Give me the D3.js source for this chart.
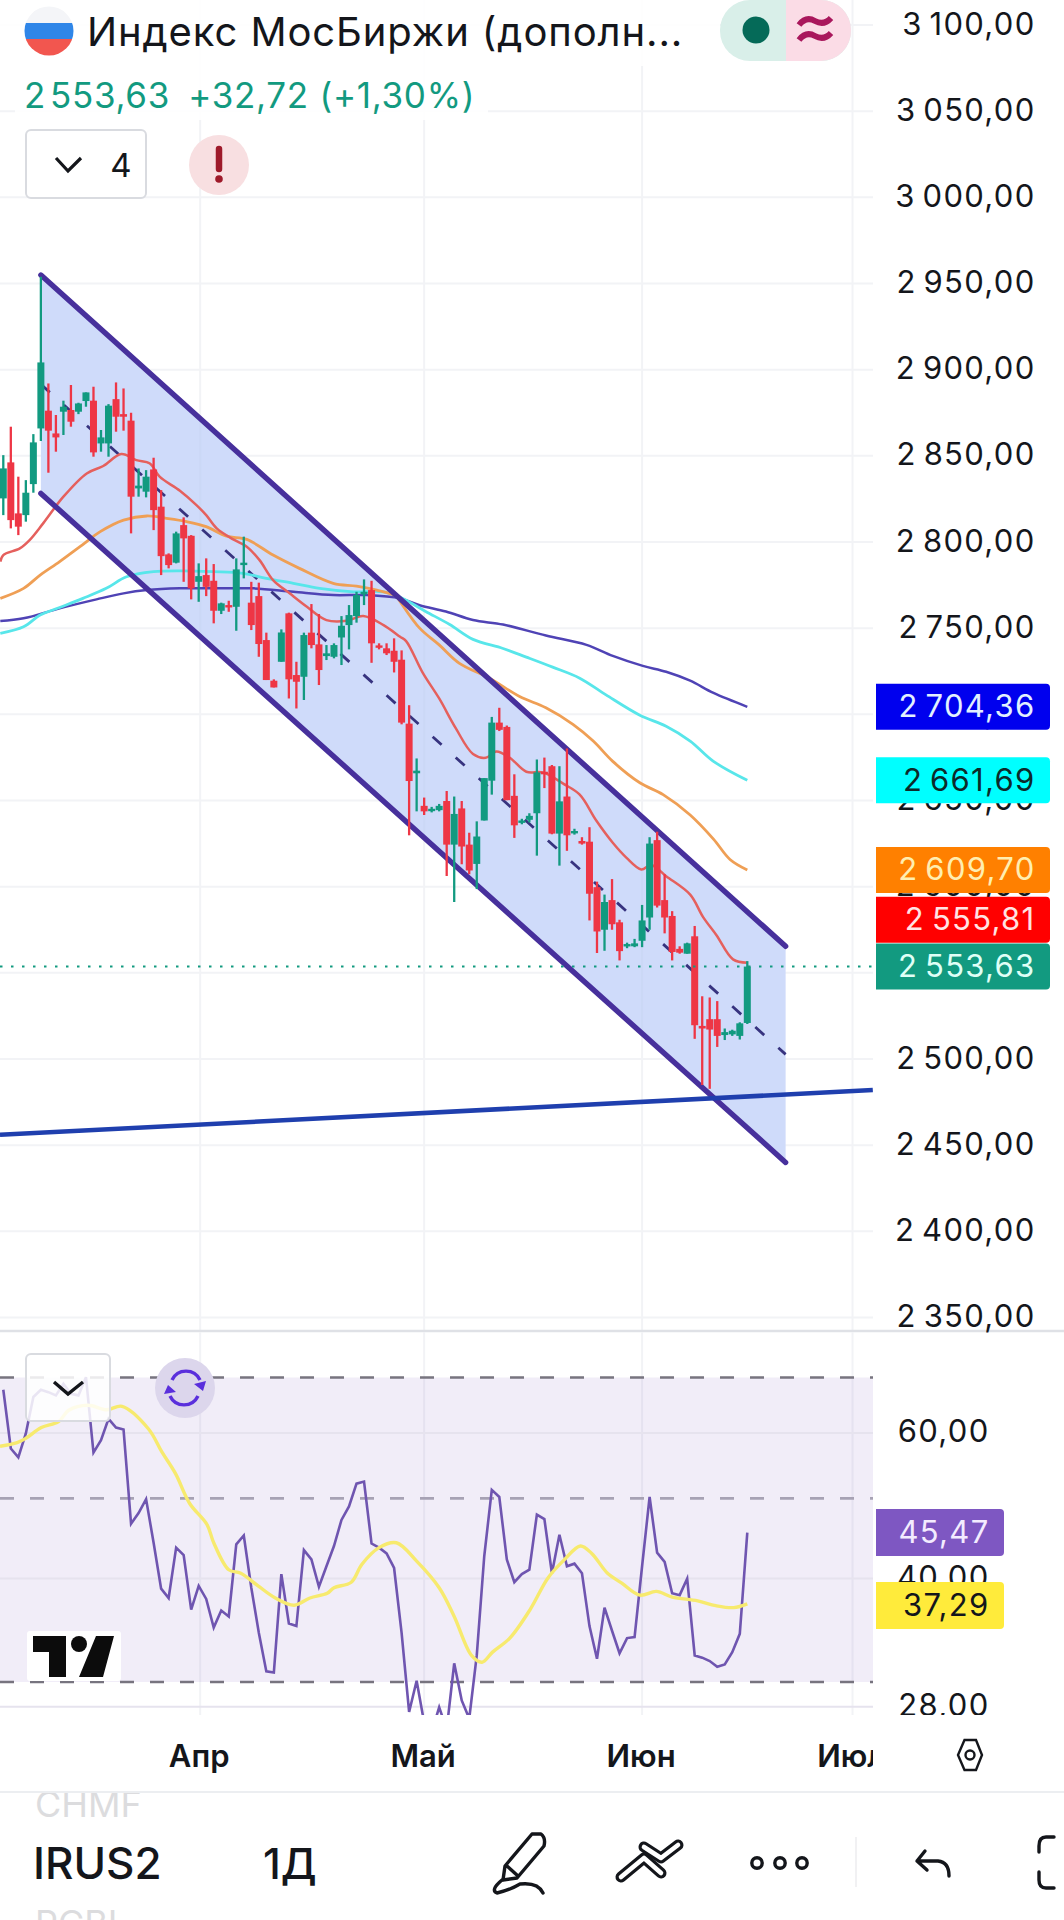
<!DOCTYPE html>
<html><head><meta charset="utf-8">
<script src="https://cdn.jsdelivr.net/npm/d3@7/dist/d3.min.js"></script>
<style>html,body{margin:0;padding:0;background:#fff}svg{display:block}text{font-family:Inter,Roboto,sans-serif}</style>
</head><body><svg id="c" width="1064" height="1920"></svg>
<script>
const opens=[2825.3,2846.2,2816.6,2815.6,2833.6,2865.9,2876.2,2863,2875.6,2876.6,2875.6,2881.8,2882,2857.2,2857.2,2882.9,2874.2,2870.4,2831.1,2829.2,2842.1,2820.5,2792.8,2788,2809.8,2803.6,2776.9,2780.8,2777.5,2760.1,2763.4,2762.4,2786.6,2764.8,2768.6,2743.1,2719.5,2730.5,2758.6,2722.8,2721.8,2747.4,2740.6,2733.8,2733.4,2744.6,2751.8,2757,2769.6,2772.1,2740,2738.3,2736.9,2731.7,2694.6,2665.8,2646.9,2644.2,2644.4,2649.7,2624.4,2645.4,2624.4,2613.2,2638.4,2661.5,2695.2,2692.7,2652.7,2637.1,2638.8,2642.6,2666.7,2669.9,2630.8,2652.3,2631.3,2626.5,2626.1,2599.7,2575,2592.2,2579.3,2565.4,2565.4,2568.6,2582.1,2627,2592.2,2583,2563.9,2561.1,2571.2,2519.2,2523.1,2523.1,2513.9,2514.3,2513.4,2520.91];
const highs=[2850.4,2866.9,2837.9,2835.9,2862.6,2953.9,2892,2873.7,2882,2891.1,2880.8,2886.8,2890.1,2865,2880,2892.6,2889.1,2875,2842.7,2841.7,2848.9,2830.1,2793.4,2806,2814.3,2804,2787.6,2790.5,2787.2,2764.8,2765.9,2790.5,2803.1,2776.9,2776.4,2747.4,2720.3,2749.3,2759,2730.5,2747.4,2764,2758.2,2740.2,2741.2,2757,2763.4,2771.1,2778.3,2777.5,2741.2,2741.2,2744.1,2737.1,2705.3,2674.4,2651.7,2646.3,2648,2655.5,2652.3,2649.7,2631.3,2637.9,2663,2698.5,2703.8,2693.5,2665.2,2639.4,2642.6,2673.8,2674.9,2670.6,2669.9,2680.2,2633.6,2628.7,2634.5,2602.9,2595.4,2604.4,2580.8,2567.5,2569.7,2589.4,2628.7,2631.9,2607.2,2585.8,2565.4,2567.5,2577.2,2536.4,2535.7,2533.6,2517.7,2517,2521.3,2556.8];
const lows=[2815.6,2807.9,2804,2811.8,2828.6,2858.6,2840.2,2852.4,2862.1,2866.9,2874.2,2878.5,2849.5,2852.4,2849.5,2864,2864.6,2805,2826.3,2825.9,2806.9,2780.8,2784.7,2787.6,2776.9,2766.7,2765.3,2768.6,2752.8,2758.2,2759.5,2748.5,2778.9,2748.9,2733.4,2719.9,2715.6,2730.5,2709.2,2703.4,2708.3,2738.3,2717,2731.5,2732.5,2728.6,2737.7,2753.2,2763.4,2729.9,2737.7,2734.4,2724.3,2694.2,2629.8,2643.7,2641.6,2643.1,2643.7,2606.2,2591.1,2613,2607.2,2598.6,2638.4,2653.4,2690.3,2650.2,2628.3,2636.2,2637.3,2618,2657.2,2630.4,2612.2,2620.8,2630.2,2624.4,2580.4,2561.5,2562.8,2575,2557.2,2564.3,2564.9,2564.9,2575,2587.9,2572.9,2557.2,2561.1,2561.1,2511.7,2484.9,2482.7,2507,2511,2513.4,2511.3,2520.3];
const closes=[2842.7,2812.7,2808.9,2828.6,2857.8,2904.2,2864.6,2860.7,2878.5,2869.8,2880.4,2886.8,2852,2860.7,2879.1,2872.7,2872.7,2826.3,2832.7,2837.9,2818.5,2791.8,2786.6,2805,2802.1,2773.1,2780.2,2774,2760.1,2764.4,2762.4,2784.1,2788,2751.8,2740.8,2719.9,2715.6,2747.5,2720.3,2718.9,2746,2740.2,2725.7,2735.4,2740.2,2751.4,2757.6,2769.2,2771.1,2741.2,2738.8,2735.4,2730.5,2695.2,2661.3,2667.3,2643.7,2645.2,2646.9,2624.4,2642.2,2623.3,2609.4,2629.1,2663,2695.2,2691,2650.2,2635.6,2638.4,2641.1,2666.3,2665.2,2630.8,2649.5,2629.8,2632.3,2625,2595.9,2574,2591.1,2578.2,2562.6,2566.7,2567.1,2580.4,2625,2589,2582.1,2562.1,2561.7,2567.1,2519.6,2517.7,2517.1,2513.4,2515.6,2516.4,2520.7,2553.63];

const maRedIdx=[-0.4,0,2.2,3.5,5.3,8,11.1,13.3,15.7,17.7,19.5,20.8,23.5,25.7,27,28.4,30.6,32.4,34.1,35.9,38.1,40.4,43,45.7,47.9,50.6,52.8,53.6,55.8,58,60.2,62.5,64.2,65.6,67.4,69.6,71.8,74.5,76.7,78.9,81.1,82.9,84.9,86.2,88.2,91.4,93.1,94.9,97.1,99];
const maRedVal=[2788.6,2792.4,2796.3,2801.1,2810.8,2826.3,2839.8,2844.1,2851,2847.5,2845.6,2837.9,2829.7,2821.4,2815.6,2807.9,2801.5,2797.3,2789.5,2777.9,2770.2,2762.4,2754.7,2754.3,2757,2751.8,2745,2742.5,2724.2,2709.2,2692,2677,2674.8,2678.5,2674.8,2666.7,2666.3,2659.8,2653.4,2638.4,2625.5,2616.9,2610,2612.6,2606.1,2595.4,2582.5,2571.8,2557.8,2555.81];
const maOrangeIdx=[-0.4,2.7,4.9,7.5,10.2,12.9,16,19.1,21.7,24.4,27,29.7,32.4,35.9,39.4,43.9,47,49.7,52.3,52.7,55.4,58,60.7,64.7,68.7,72.2,75.8,78.5,81.1,84.7,87.8,91.4,94.5,96.7,99];
const maOrangeVal=[2767.3,2773.1,2780.8,2788.6,2797.3,2806,2812.7,2815.1,2813.7,2811.8,2808.9,2803.4,2801.5,2792.4,2784.7,2776,2774.4,2772.1,2768.6,2766.1,2750,2740.3,2729.6,2721,2710.3,2703.8,2694.2,2684.5,2672.7,2660.3,2653.4,2641.6,2627.6,2615.8,2609.7];
const maCyanIdx=[-0.4,2.7,4.9,7.5,10.6,13.7,16.4,20,23.5,27.9,31.9,35,38.6,42.1,46.6,50.6,52.7,56.2,59.4,62.5,66.5,69.6,73.1,76.7,80.2,84.7,88.2,91.4,94.5,99];
const maCyanVal=[2747,2750.8,2757.6,2762,2767.3,2773.1,2779.8,2782.8,2783.3,2782.8,2781.8,2778.9,2776,2773.1,2771.1,2771.1,2768.2,2759.7,2752.1,2743.5,2738.2,2733.2,2727.4,2721,2711.3,2699.5,2693.1,2684.5,2672.7,2661.69];
const maBlueIdx=[-0.4,2.7,7.5,12.4,16,19.1,23.5,27.9,33.3,38.6,43.9,48.3,52.8,55.4,58.9,62.5,66.5,72.2,77.6,81.1,85.1,88.2,91.4,94.5,99];
const maBlueVal=[2754.1,2755.7,2761.5,2766.7,2770.2,2772.1,2773.1,2773.1,2773.1,2771.1,2769.2,2769.2,2767.3,2763.3,2759.7,2754.7,2752.1,2745.7,2740.3,2733.9,2728.1,2724.7,2719.5,2712.4,2704.36];

const channelIdx=[5,104.1];
const channelUpper=[2954.9,2565.4];
const channelLower=[2828.2,2440];
const channelMid=[2891.5,2502.7];
const trendIdx=[-0.44,115.7];
const trendVal=[2456,2482];

const priceTicks=[3100,3050,3000,2950,2900,2850,2800,2750,2700,2650,2600,2550,2500,2450,2400,2350];
const monthLabels=["Апр","Май","Июн","Июл"];
const monthIdx=[26.2,56,85,113];

const rsi=[67.65,57.45,56.04,59.9,66.3,67.65,67.2,66.6,68.8,66.9,66.6,70.06,56.8,58.8,62.4,60.9,60.55,46.6,48,49.9,44.2,38.9,37.9,43.6,42.7,36.7,39.2,37.8,34.9,36.6,36,44,45.1,39,34.4,30.9,30.8,40.5,35.3,35.05,43.3,42.2,39.1,41.4,43.8,47.1,48.9,52.1,52.4,44.1,43.6,42.9,41.2,34.4,27.6,30.1,26.8,26.1,27.96,26.3,31.6,28.5,27.1,32.3,42.6,51.2,50.2,42.2,39.6,40.5,41,47.8,47.2,40.6,45.2,41.4,41.7,40.6,35.05,32,36.9,34.6,32.5,33.9,34,41.4,50.2,43,41.9,38.4,38.2,40,32.3,32.1,31.8,31.3,31.5,32.6,34.3,45.47];
const rsiMaIdx=[-0.44,1.85,3,5.06,7.35,8.7,11.25,13.77,15.8,19.3,21.1,22.9,24.8,27.1,28,30,31.6,33.9,36.2,38.7,40.8,43.1,44,46.3,47.7,50,52.3,55,58,60,62.3,63.7,65.1,67.4,70.1,72.5,74.7,76.8,78.3,80.4,82.3,84.7,86.9,89,92.4,94.8,97.2,99];
const rsiMaVal=[57.8,58.4,59.1,60.9,61.9,63.9,64.8,64,64.6,60.7,56.9,53.6,49.3,46.5,44.2,41,40.6,39.2,37.9,37.15,37.9,38.4,39,39.6,41.6,43.6,44.2,42,39,36,32.3,31.7,32.6,33.9,36.7,40.1,42.2,43.8,42.9,40.6,39.5,38.2,38.6,38,37.6,37.1,36.9,37.29];
const rsiTicks=[60,40,28];
const rsiBands=[70,50,30];

const fmt=v=>{const s=v.toFixed(2).replace(".",",");const [a,b]=s.split(",");return (a.length>3?a[0]+"\u2009"+a.slice(1):a)+","+b;};

const GREEN="#129a80",RED="#ee3645",GUT=873,INK="#14161b";
const svg=d3.select("#c");
const x=d3.scaleLinear().domain([0,99]).range([3.3,747.3]);
const y=d3.scaleLinear().domain([3100,2350]).range([25,1317.5]);
const ry=d3.scaleLog().domain([70,30]).range([1377.5,1682]);

const defs=svg.append("defs");
defs.append("clipPath").attr("id","main").append("rect").attr("x",0).attr("y",0).attr("width",GUT).attr("height",1330);
defs.append("clipPath").attr("id","rsi").append("rect").attr("x",0).attr("y",1332).attr("width",GUT).attr("height",383);
defs.append("clipPath").attr("id","axl").append("rect").attr("x",0).attr("y",1720).attr("width",GUT).attr("height",70);
defs.append("clipPath").attr("id","rl").append("rect").attr("x",GUT).attr("y",1332).attr("width",191).attr("height",383);
defs.append("clipPath").attr("id","bot").append("rect").attr("x",0).attr("y",1793).attr("width",1064).attr("height",127);

// grids
const GRID="#f2f3f6";
const gg=svg.append("g");
gg.selectAll("line.h").data(priceTicks).join("line").attr("x1",0).attr("x2",GUT).attr("y1",y).attr("y2",y).attr("stroke",GRID).attr("stroke-width",2);
gg.selectAll("line.v").data(monthIdx).join("line").attr("x1",x).attr("x2",x).attr("y1",0).attr("y2",1330).attr("stroke",GRID).attr("stroke-width",2);

// main pane
const main=svg.append("g").attr("clip-path","url(#main)");
const chanArea=d3.area().x((d,i)=>x(channelIdx[i])).y0((d,i)=>y(channelLower[i])).y1((d,i)=>y(channelUpper[i]));
defs.append("clipPath").attr("id","chan").append("path").attr("d",chanArea(channelIdx));
main.append("path").attr("d",chanArea(channelIdx)).attr("fill","#cfdbfa");
const chanGrid=main.append("g").attr("clip-path","url(#chan)");
chanGrid.selectAll("line.vv").data(monthIdx.slice(0,3)).join("line").attr("x1",x).attr("x2",x).attr("y1",0).attr("y2",1330).attr("stroke","#c5d0ee").attr("stroke-opacity",.3).attr("stroke-width",2);
const ln=(a,b,sc=y)=>d3.line().x(i=>x(a[i])).y(i=>sc(b[i]))(d3.range(a.length));
main.append("path").attr("d",ln(channelIdx,channelMid)).attr("stroke","#37337f").attr("stroke-width",2.8).attr("stroke-dasharray","12 19").attr("fill","none");
// MAs
[[maBlueIdx,maBlueVal,"#4f43b5",2.5],[maCyanIdx,maCyanVal,"#58e6ea",2.8],[maOrangeIdx,maOrangeVal,"#ef9f55",2.8],[maRedIdx,maRedVal,"#e5605d",2.5]].forEach(([a,b,c,w])=>{
 main.append("path").attr("d",d3.line().x(i=>x(a[i])).y(i=>y(b[i])).curve(d3.curveCatmullRom)(d3.range(a.length))).attr("fill","none").attr("stroke",c).attr("stroke-width",w);
});
// channel borders
[channelUpper,channelLower].forEach(b=>main.append("path").attr("d",ln(channelIdx,b)).attr("stroke","#47309c").attr("stroke-width",5.4).attr("stroke-linecap","round").attr("fill","none"));
// candles
const bars=d3.range(opens.length);
const col=i=>closes[i]>=opens[i]?GREEN:RED;
main.selectAll("line.w").data(bars).join("line").attr("x1",x).attr("x2",x).attr("y1",i=>y(highs[i])).attr("y2",i=>y(lows[i])).attr("stroke",col).attr("stroke-width",2.3);
main.selectAll("rect.b").data(bars).join("rect").attr("x",i=>x(i)-3.5).attr("width",7).attr("y",i=>y(Math.max(opens[i],closes[i]))).attr("height",i=>Math.max(2.4,Math.abs(y(opens[i])-y(closes[i])))).attr("fill",col);
// trend + price line
main.append("path").attr("d",ln(trendIdx,trendVal)).attr("stroke","#1f3fae").attr("stroke-width",4.6).attr("fill","none");
main.append("line").attr("x1",0).attr("x2",GUT).attr("y1",y(2553.63)).attr("y2",y(2553.63)).attr("stroke",GREEN).attr("stroke-width",2).attr("stroke-dasharray","2.5 8.5");

// legend backdrop
svg.append("rect").attr("x",0).attr("y",0).attr("width",720).attr("height",66).attr("fill","#fff").attr("opacity",.9);
svg.append("rect").attr("x",15).attr("y",66).attr("width",473).attr("height",54).attr("fill","#fff").attr("opacity",.9);

// separator
svg.append("line").attr("x1",0).attr("x2",1064).attr("y1",1331).attr("y2",1331).attr("stroke","#dfe1e6").attr("stroke-width",2.5);

// RSI pane
const rp=svg.append("g").attr("clip-path","url(#rsi)");
rp.selectAll("line.v").data(monthIdx).join("line").attr("x1",x).attr("x2",x).attr("y1",1332).attr("y2",1716).attr("stroke",GRID).attr("stroke-width",2);
rp.append("rect").attr("x",0).attr("width",GUT).attr("y",ry(70)).attr("height",ry(30)-ry(70)).attr("fill","#7e57c2").attr("opacity",.11);
rp.selectAll("line.t").data(rsiTicks).join("line").attr("x1",0).attr("x2",GUT).attr("y1",ry).attr("y2",ry).attr("stroke","#e6e3ee").attr("stroke-width",2);
rp.selectAll("line.bd").data(rsiBands).join("line").attr("x1",0).attr("x2",GUT).attr("y1",ry).attr("y2",ry).attr("stroke",(d,i)=>i==1?"#a7a2b4":"#77747f").attr("stroke-width",2.6).attr("stroke-dasharray","14 16");
rp.append("path").attr("d",d3.line().x((d,i)=>x(i)).y(d=>ry(d))(rsi)).attr("fill","none").attr("stroke","#6f55b0").attr("stroke-width",2.6);
rp.append("path").attr("d",d3.line().x((d,i)=>x(rsiMaIdx[i])).y(d=>ry(d)).curve(d3.curveCatmullRom)(rsiMaVal)).attr("fill","none").attr("stroke","#f7ea6e").attr("stroke-width",3.4);

// axis labels
const LS=1.3;
const ax=svg.append("g").attr("fill",INK).attr("font-size",31).attr("letter-spacing",LS);
ax.selectAll("text.p").data(priceTicks).join("text").attr("x",1035.5).attr("y",d=>y(d)-2).attr("text-anchor","end").attr("dominant-baseline","central").text(fmt);
const rl=svg.append("g").attr("clip-path","url(#rl)").attr("fill",INK).attr("font-size",31).attr("letter-spacing",LS);
rl.selectAll("text").data(rsiTicks).join("text").attr("x",989.5).attr("y",d=>ry(d)-2).attr("text-anchor","end").attr("dominant-baseline","central").text(fmt);

// price tags: the 2555,81 tag is pushed up above the last-price tag, as on the chart
const tagVals=[2704.36,2661.69,2609.7,2555.81,2553.63];
const tagPush=[0,0,0,-43,0];
const tagBg=["#0000ee","#00ffff","#ff8000","#ff0000","#129a80"];
const tagFg=["#e2f0ff","#0c2a2a","#ffeeb0","#ffe3e3","#dffff6"];
const tagPath=(t,x0,x1,h)=>`M${x0} ${t} H${x1-4} Q${x1} ${t} ${x1} ${t+4} V${t+h-4} Q${x1} ${t+h} ${x1-4} ${t+h} H${x0} Z`;
const tg=svg.selectAll("g.tag").data(tagVals).join("g");
tg.append("path").attr("d",(d,i)=>tagPath(y(d)+tagPush[i]-23,876,1050,46)).attr("fill",(d,i)=>tagBg[i]);
tg.append("text").attr("x",1035.5).attr("y",(d,i)=>y(d)+tagPush[i]-1).attr("text-anchor","end").attr("dominant-baseline","central").attr("font-size",31).attr("letter-spacing",LS).attr("fill",(d,i)=>tagFg[i]).text(fmt);
const rsiTagVals=[45.47,37.29];
const rsiTagTop=[1509,1582];
const rsiTagBg=["#7e57c2","#ffeb3b"],rsiTagFg=["#f3ecff",INK];
const rt=svg.selectAll("g.rtag").data(rsiTagVals).join("g");
rt.append("path").attr("d",(d,i)=>tagPath(rsiTagTop[i],876,1004,47)).attr("fill",(d,i)=>rsiTagBg[i]);
rt.append("text").attr("x",989.5).attr("y",(d,i)=>rsiTagTop[i]+22).attr("text-anchor","end").attr("dominant-baseline","central").attr("font-size",31).attr("letter-spacing",LS).attr("fill",(d,i)=>rsiTagFg[i]).text(fmt);

// month labels
svg.append("g").attr("clip-path","url(#axl)").selectAll("text").data(monthLabels).join("text").attr("x",(d,i)=>x(monthIdx[i])-1).attr("y",1755).attr("text-anchor","middle").attr("dominant-baseline","central").attr("font-size",31).attr("font-weight",600).attr("fill",INK).text(d=>d);
// hexagon
svg.append("path").attr("d","M958 1755 L964.5 1740 L976 1740 L982 1755 L976 1770 L964.5 1770 Z").attr("fill","none").attr("stroke",INK).attr("stroke-width",2.4);
svg.append("circle").attr("cx",970).attr("cy",1755).attr("r",4.5).attr("fill","none").attr("stroke",INK).attr("stroke-width",2.4);

// legend
const fg=defs.append("clipPath").attr("id","flag");fg.append("ellipse").attr("cx",49).attr("cy",31).attr("rx",24.5).attr("ry",24.5);
const fl=svg.append("g").attr("clip-path","url(#flag)");
fl.append("rect").attr("x",24).attr("y",6).attr("width",50).attr("height",17).attr("fill","#f4f5f8");
fl.append("rect").attr("x",24).attr("y",23).attr("width",50).attr("height",16).attr("fill","#2f86e8");
fl.append("rect").attr("x",24).attr("y",39).attr("width",50).attr("height",18).attr("fill","#f2564f");
svg.append("text").attr("x",87).attr("y",31).attr("dominant-baseline","central").attr("font-size",40).attr("letter-spacing",0.9).attr("fill",INK).text("Индекс МосБиржи (дополн...");
svg.append("text").attr("x",24).attr("y",95).attr("dominant-baseline","central").attr("font-size",35).attr("letter-spacing",0.7).attr("fill",GREEN).text("2\u200A553,63\u2002+32,72 (+1,30%)");
// pills
svg.append("rect").attr("x",720).attr("y",0).attr("width",131).attr("height",61).attr("rx",30).attr("fill","#d9efe9");
svg.append("path").attr("d","M786 0 H821 A30 30 0 0 1 851 30 A30 30 0 0 1 821 61 H786 Z").attr("fill","#fbdce6");
svg.append("circle").attr("cx",756).attr("cy",30).attr("r",13.5).attr("fill","#056a58");
svg.append("path").attr("d","M799 25 Q806 16 815 21 Q824 26 831 18 M799 40 Q806 31 815 36 Q824 41 831 33").attr("fill","none").attr("stroke","#a9175c").attr("stroke-width",6);
// dropdown
svg.append("rect").attr("x",26).attr("y",130).attr("width",120).attr("height",68).attr("rx",5).attr("fill","#fff").attr("stroke","#d9dbe0").attr("stroke-width",2);
svg.append("path").attr("d","M56 158 L68 171 L81 158").attr("fill","none").attr("stroke",INK).attr("stroke-width",3.2);
svg.append("text").attr("x",121).attr("y",165).attr("text-anchor","middle").attr("dominant-baseline","central").attr("font-size",33).attr("fill",INK).text("4");
svg.append("circle").attr("cx",219).attr("cy",165).attr("r",30).attr("fill","#f8dfe1");
svg.append("path").attr("d","M219 149 V169").attr("stroke","#9e1a2a").attr("stroke-width",6.5).attr("stroke-linecap","round");
svg.append("circle").attr("cx",219).attr("cy",179).attr("r",3.8).attr("fill","#9e1a2a");

// RSI overlays
svg.append("rect").attr("x",26).attr("y",1354).attr("width",84).attr("height",67).attr("rx",5).attr("fill","#fff").attr("fill-opacity",.85).attr("stroke","#d9dbe0").attr("stroke-width",2);
svg.append("path").attr("d","M54 1382 L68 1394 L83 1382").attr("fill","none").attr("stroke",INK).attr("stroke-width",3.4);
svg.append("circle").attr("cx",185).attr("cy",1388).attr("r",30).attr("fill","#dcd6ec");
svg.append("path").attr("d","M172 1380 A15.5 15.5 0 0 1 200 1380").attr("fill","none").attr("stroke","#5a2fdc").attr("stroke-width",3.4);
svg.append("path").attr("d","M198 1396 A15.5 15.5 0 0 1 170 1396").attr("fill","none").attr("stroke","#5a2fdc").attr("stroke-width",3.4);
svg.append("path").attr("d","M194 1384 L206 1381 L203 1391 Z M176 1392 L164 1394 L168 1385 Z").attr("fill","#5a2fdc");
// TV logo
svg.append("rect").attr("x",27).attr("y",1631).attr("width",94).attr("height",50).attr("fill","#fff").attr("rx",3);
svg.append("path").attr("d","M33 1636 H66 V1677 H49 V1652 H33 Z M114 1636 L103 1677 H79 L96 1636 Z").attr("fill","#0c0c0c");
svg.append("circle").attr("cx",79).attr("cy",1644).attr("r",8).attr("fill","#0c0c0c");

// bottom
svg.append("line").attr("x1",0).attr("x2",1064).attr("y1",1792).attr("y2",1792).attr("stroke","#eceef1").attr("stroke-width",2);
const bt=svg.append("g").attr("clip-path","url(#bot)");
bt.append("text").attr("x",35).attr("y",1804).attr("dominant-baseline","central").attr("font-size",36).attr("fill","#dcdcde").text("CHMF");
bt.append("text").attr("x",35).attr("y",1923).attr("dominant-baseline","central").attr("font-size",36).attr("fill","#dcdcde").text("PCBL");
bt.append("text").attr("x",33).attr("y",1863).attr("dominant-baseline","central").attr("font-size",44).attr("font-weight",500).attr("fill",INK).text("IRUS2");
bt.append("text").attr("x",263).attr("y",1863).attr("dominant-baseline","central").attr("font-size",43).attr("font-weight",500).attr("fill",INK).text("1Д");
// toolbar icons
const ic=svg.append("g").attr("fill","none").attr("stroke",INK).attr("stroke-width",3.4).attr("stroke-linecap","round").attr("stroke-linejoin","round");
ic.append("path").attr("d","M505 1866 L532 1834 L541 1834 Q546 1838 544 1846 L517 1878 L503 1880 Z M507 1866 L518 1876");
ic.append("path").attr("d","M502 1880 Q490 1890 497 1893 Q510 1890 520 1884 Q538 1882 543 1893");
["M621 1877 L644 1858 L661 1873","M644 1847 L661 1858 L678 1845"].forEach(d=>{
 ic.append("path").attr("d",d).attr("stroke-width",11);
 ic.append("path").attr("d",d).attr("stroke","#fff").attr("stroke-width",4.6);
});
ic.append("circle").attr("cx",757).attr("cy",1863).attr("r",5.2);
ic.append("circle").attr("cx",780).attr("cy",1863).attr("r",5.2);
ic.append("circle").attr("cx",802).attr("cy",1863).attr("r",5.2);
ic.append("path").attr("d","M925 1851 L917 1861 L927 1870 M917 1861 H938 Q949 1862 949 1876");
ic.append("path").attr("d","M1054 1837 H1046 Q1039 1837 1039 1846 V1852 M1039 1872 V1880 Q1039 1888 1046 1888 H1054");
svg.append("line").attr("x1",856).attr("x2",856).attr("y1",1837).attr("y2",1887).attr("stroke","#ececef").attr("stroke-width",1.5);
</script></body></html>
